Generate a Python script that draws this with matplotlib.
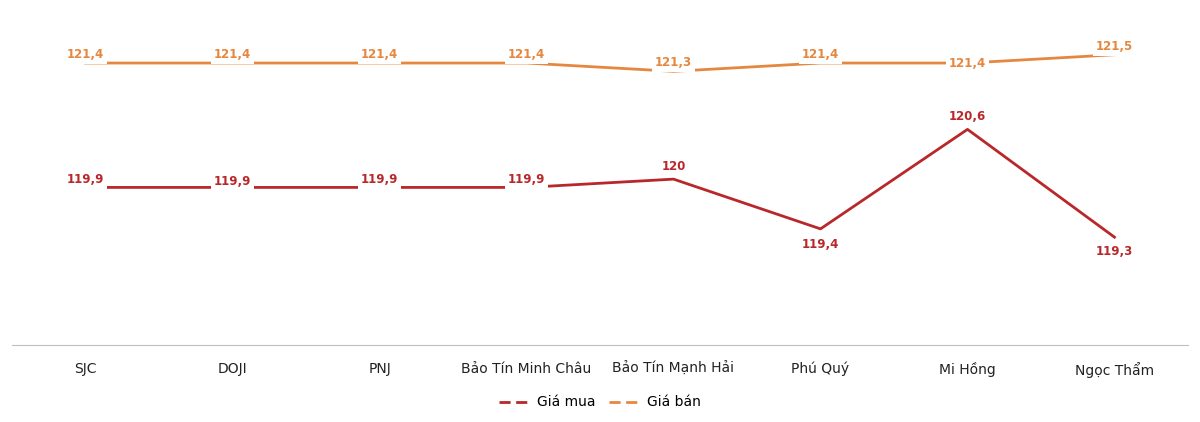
import matplotlib
matplotlib.use("Agg")
import matplotlib.pyplot as plt
from matplotlib.lines import Line2D

categories = ["SJC", "DOJI", "PNJ", "Bảo Tín Minh Châu", "Bảo Tín Mạnh Hải", "Phú Quý", "Mi Hồng", "Ngọc Thẩm"]
gia_mua = [119.9, 119.9, 119.9, 119.9, 120.0, 119.4, 120.6, 119.3]
gia_ban = [121.4, 121.4, 121.4, 121.4, 121.3, 121.4, 121.4, 121.5]

c_mua = "#B8282A"
c_ban = "#E6873F"

# label offsets (points) for placement
off_mua = [6, 4, 6, 6, 9, -11, 9, -10]
off_ban = [6, 6, 6, 6, 6, 6, 0, 6]

fig = plt.figure(figsize=(12, 4.22), dpi=100)
ax = fig.add_axes([0.01, 0.1825, 0.98, 0.8175])
x = list(range(len(categories)))
ax.plot(x, gia_mua, color=c_mua, lw=2)
ax.plot(x, gia_ban, color=c_ban, lw=2)

def fmt(v):
    s = f"{v:.1f}"
    if s.endswith(".0"):
        s = s[:-2]
    return s.replace(".", ",")

for series, col, offs in ((gia_mua, c_mua, off_mua), (gia_ban, c_ban, off_ban)):
    for xi, v, o in zip(x, series, offs):
        ax.annotate(fmt(v), (xi, v), xytext=(0, o), textcoords="offset points",
                    color=col, fontsize=8.5, fontweight="bold", ha="center", va="center",
                    bbox=dict(boxstyle="square,pad=0.25", fc="white", ec="none"))

ax.set_xlim(-0.5, len(categories) - 0.5)
ax.set_ylim(118, 122.16)
ax.set_yticks([])
ax.set_xticks(x)
ax.set_xticklabels(categories, fontsize=10, fontweight="medium", color="#222222")
ax.tick_params(axis="x", length=0, pad=12)
for s in ["top", "right", "left"]:
    ax.spines[s].set_visible(False)
ax.spines["bottom"].set_color("#BFBFBF")

handles = [Line2D([], [], color=c_mua, lw=2, ls=(0, (4, 2))),
           Line2D([], [], color=c_ban, lw=2, ls=(0, (4, 2)))]
fig.legend(handles, ["Giá mua", "Giá bán"], loc="lower center", ncol=2, frameon=False,
           fontsize=10, bbox_to_anchor=(0.5, 0.0), handlelength=2.2, columnspacing=1.0,
           handletextpad=0.5)
fig.savefig("out.png", dpi=100)
